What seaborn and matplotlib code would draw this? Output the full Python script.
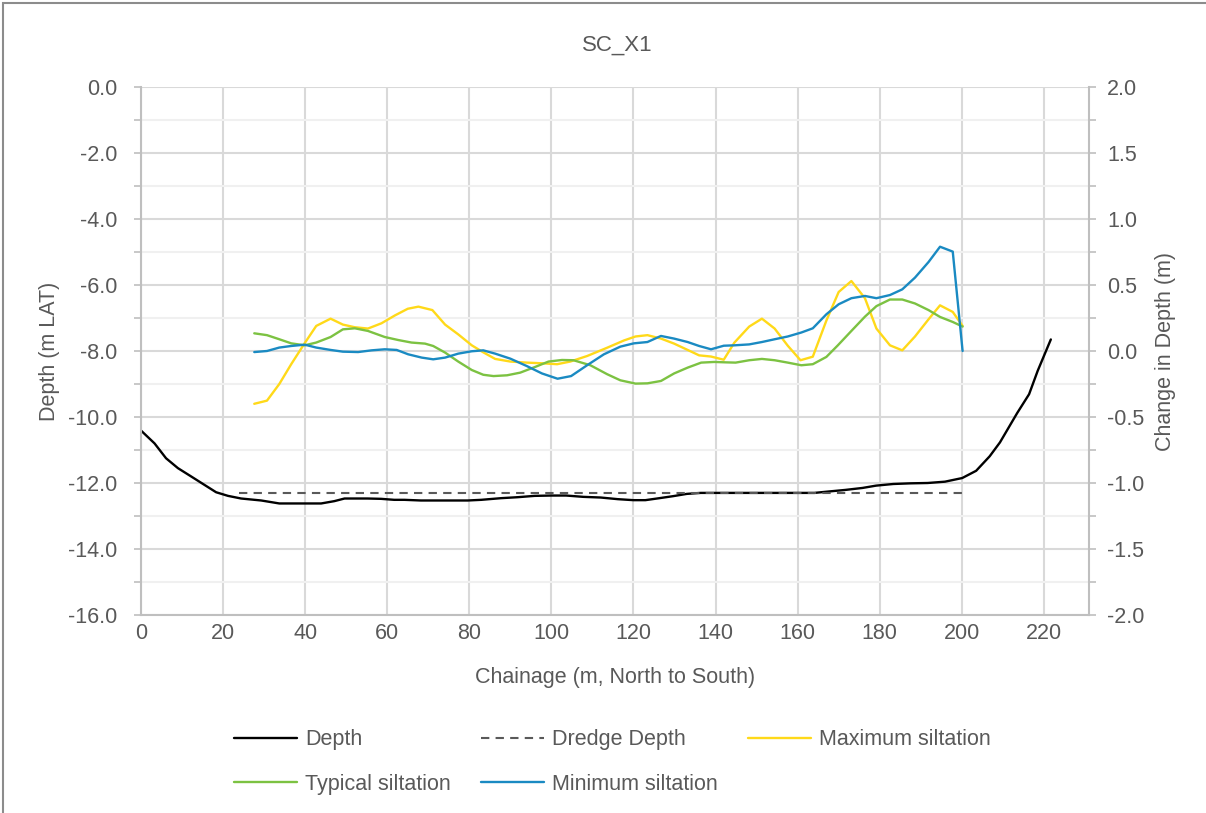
import matplotlib
matplotlib.use("Agg")
import matplotlib.pyplot as plt
import seaborn as sns
from matplotlib.ticker import MultipleLocator, FormatStrFormatter
from matplotlib.patches import Rectangle

# depth profile (left axis, m LAT)
depth_x = [0, 3.3, 6.1, 9.0, 12.2, 15.5, 18.3, 21.2, 24.4, 29.3, 33.7, 39.0, 43.9, 47.1,
           49.6, 55.2, 58.5, 61.7, 64.2, 68.2, 79.6, 82.9, 87.7, 91.8, 95.9, 100.0, 103.6,
           107.8, 112.0, 116.2, 120.0, 122.9, 126.3, 129.6, 133.0, 136.4, 140.0, 149.8,
           160.3, 164.1, 168.2, 171.6, 175.8, 179.1, 183.3, 187.5, 191.7, 195.9, 200.1,
           203.5, 206.8, 209.3, 213.5, 216.4, 218.5, 221.7]
depth_y = [-10.41, -10.80, -11.25, -11.55, -11.80, -12.06, -12.28, -12.39, -12.47, -12.53,
           -12.62, -12.62, -12.62, -12.55, -12.47, -12.47, -12.48, -12.51, -12.51, -12.53,
           -12.53, -12.51, -12.46, -12.43, -12.39, -12.38, -12.38, -12.42, -12.44, -12.49,
           -12.52, -12.52, -12.46, -12.40, -12.33, -12.30, -12.30, -12.30, -12.30, -12.30,
           -12.25, -12.21, -12.15, -12.08, -12.03, -12.01, -12.00, -11.96, -11.85, -11.63,
           -11.19, -10.77, -9.88, -9.31, -8.60, -7.65]

dredge_x = [24, 200]
dredge_y = [-12.3, -12.3]

# siltation (right axis, change in depth m)
max_x = [27.6, 30.7, 33.7, 36.6, 39.9, 42.7, 46.2, 49.2, 52.1, 55.3, 58.6, 61.9, 65.0, 67.6,
         71.0, 74.1, 77.3, 80.6, 83.4, 86.3, 90.0, 94.0, 97.7, 101.4, 104.6, 108.7, 113.6,
         117.7, 120.5, 123.4, 126.7, 129.9, 133.2, 136.0, 138.9, 142.0, 144.6, 148.2, 151.3,
         154.4, 157.6, 160.7, 163.7, 167.0, 170.0, 173.1, 176.4, 179.2, 182.5, 185.5, 188.6,
         191.9, 194.7, 197.8, 200.2]
max_y = [-0.40, -0.376, -0.25, -0.10, 0.06, 0.19, 0.245, 0.20, 0.18, 0.17, 0.21, 0.27, 0.32,
         0.336, 0.31, 0.20, 0.126, 0.043, -0.01, -0.06, -0.08, -0.088, -0.093, -0.10, -0.08,
         -0.038, 0.025, 0.08, 0.11, 0.12, 0.094, 0.056, 0.008, -0.033, -0.042, -0.066, 0.064,
         0.185, 0.245, 0.17, 0.04, -0.07, -0.043, 0.23, 0.447, 0.53, 0.40, 0.17, 0.043, 0.005,
         0.11, 0.24, 0.346, 0.296, 0.19]

typ_x = [27.6, 30.7, 33.7, 36.6, 39.9, 42.7, 46.2, 49.2, 52.1, 55.3, 59.4, 62.7, 65.9, 69.2,
         71.2, 74.1, 77.3, 80.6, 83.4, 85.9, 89.2, 92.4, 96.1, 99.3, 102.6, 105.4, 109.5,
         113.6, 116.8, 120.5, 123.4, 126.7, 129.9, 133.2, 136.5, 139.7, 142.5, 144.9, 148.2,
         151.3, 154.4, 157.6, 160.9, 163.7, 167.0, 169.8, 173.1, 176.4, 179.2, 182.5, 185.5,
         188.6, 191.9, 194.7, 197.8, 200.2]
typ_y = [0.134, 0.12, 0.089, 0.058, 0.043, 0.064, 0.106, 0.164, 0.172, 0.152, 0.106, 0.083,
         0.064, 0.056, 0.038, -0.012, -0.08, -0.144, -0.18, -0.19, -0.184, -0.164, -0.12,
         -0.08, -0.068, -0.07, -0.108, -0.176, -0.222, -0.247, -0.245, -0.227, -0.17, -0.126,
         -0.088, -0.083, -0.086, -0.088, -0.07, -0.06, -0.07, -0.088, -0.108, -0.10, -0.045,
         0.043, 0.152, 0.26, 0.34, 0.39, 0.39, 0.36, 0.31, 0.258, 0.22, 0.185]

min_x = [27.6, 30.7, 33.7, 36.6, 39.9, 42.7, 46.2, 49.2, 52.9, 56.2, 59.4, 62.3, 65.1, 68.4,
         71.2, 74.1, 77.3, 80.6, 83.4, 86.3, 90.0, 94.0, 97.7, 101.5, 104.8, 108.7, 112.8,
         116.8, 120.1, 123.4, 126.7, 129.9, 133.2, 136.0, 138.9, 142.0, 144.6, 148.2, 151.3,
         154.4, 157.6, 160.9, 163.7, 167.0, 170.0, 173.1, 176.4, 179.2, 182.5, 185.5, 188.6,
         191.9, 194.7, 197.8, 200.2]
min_y = [-0.008, 0.0, 0.026, 0.038, 0.048, 0.026, 0.008, -0.005, -0.008, 0.005, 0.013, 0.008,
         -0.025, -0.05, -0.063, -0.05, -0.02, -0.002, 0.005, -0.02, -0.058, -0.114, -0.17,
         -0.21, -0.19, -0.108, -0.025, 0.033, 0.058, 0.068, 0.114, 0.094, 0.068, 0.038, 0.013,
         0.04, 0.043, 0.05, 0.068, 0.089, 0.11, 0.14, 0.172, 0.278, 0.354, 0.40, 0.417, 0.40,
         0.424, 0.467, 0.556, 0.674, 0.79, 0.753, 0.0]

sns.set_style("white")
plt.rcParams["font.family"] = ["Liberation Sans", "DejaVu Sans"]
plt.rcParams["axes.unicode_minus"] = False

txt = "#595959"
grid_c = "#d9d9d9"
fs = 15.5

fig = plt.figure(figsize=(12.06, 8.13), dpi=100)
ax = fig.add_axes([141 / 1206, 1 - 615 / 813, (1089 - 141) / 1206, (615 - 87) / 813])
ax2 = ax.twinx()

sns.lineplot(x=depth_x, y=depth_y, ax=ax, color="black", lw=1.7, label="Depth")
sns.lineplot(x=dredge_x, y=dredge_y, ax=ax, color="#595959", lw=1.5, label="Dredge Depth")
ax.lines[-1].set_dashes((4, 3))
sns.lineplot(x=max_x, y=max_y, ax=ax2, color="#FFD919", lw=1.7, label="Maximum siltation")
sns.lineplot(x=typ_x, y=typ_y, ax=ax2, color="#7CC242", lw=1.7, label="Typical siltation")
sns.lineplot(x=min_x, y=min_y, ax=ax2, color="#1A8AC2", lw=1.7, label="Minimum siltation")

ax.set_xlim(0, 231)
ax.set_ylim(-16, 0)
ax2.set_ylim(-2, 2)

ax.xaxis.set_major_locator(MultipleLocator(20))
ax.yaxis.set_major_locator(MultipleLocator(2))
ax.yaxis.set_minor_locator(MultipleLocator(1))
ax.yaxis.set_major_formatter(FormatStrFormatter("%.1f"))
ax2.yaxis.set_major_locator(MultipleLocator(0.5))
ax2.yaxis.set_minor_locator(MultipleLocator(0.25))
ax2.yaxis.set_major_formatter(FormatStrFormatter("%.1f"))

ax.grid(True, which="major", axis="both", color=grid_c, lw=1.5)
ax.grid(True, which="minor", axis="y", color="#f0f0f0", lw=1.5)
ax.set_axisbelow(True)

for a in (ax, ax2):
    for s in a.spines.values():
        s.set_visible(False)
    a.tick_params(colors=txt, labelsize=fs)
ax.spines["left"].set_visible(True)
ax.spines["bottom"].set_visible(True)
ax2.spines["right"].set_visible(True)
for s in (ax.spines["left"], ax.spines["bottom"], ax2.spines["right"]):
    s.set_color("#bfbfbf")
    s.set_linewidth(1.5)

ax.tick_params(axis="x", length=0, pad=6)
ax.tick_params(axis="y", which="both", left=True, length=5, width=1.2, color="#bfbfbf", pad=12)
ax2.tick_params(axis="y", which="both", right=True, length=5, width=1.2, color="#bfbfbf", pad=8)

ax.set_xlabel("Chainage (m, North to South)", color=txt, fontsize=fs)
ax.set_ylabel("Depth (m LAT)", color=txt, fontsize=fs)
ax2.set_ylabel("Change in Depth (m)", color=txt, fontsize=fs)
ax.xaxis.set_label_coords(0.5, (615 - 678) / 528)
ax.yaxis.set_label_coords((50 - 141) / 948, 0.5)
ax2.yaxis.set_label_coords((1166 - 141) / 948, 0.5)
for lab in (ax.xaxis.label, ax.yaxis.label, ax2.yaxis.label):
    lab.set_verticalalignment("center")
fig.text(617 / 1206, 1 - 45 / 813, "SC_X1", color=txt, fontsize=16, ha="center", va="center")

h1, l1 = ax.get_legend_handles_labels()
h2, l2 = ax2.get_legend_handles_labels()
ax.get_legend().remove()
ax2.get_legend().remove()
hd = dict(zip(l1 + l2, h1 + h2))
order = ["Depth", "Typical siltation", "Dredge Depth", "Minimum siltation", "Maximum siltation"]
fig.legend([hd[k] for k in order], order, ncol=3, loc="center",
           bbox_to_anchor=(0.508, 1 - 762 / 813), frameon=False, fontsize=fs,
           labelcolor=txt, handlelength=2.9, handletextpad=0.4, columnspacing=1.4,
           labelspacing=1.1)

fig.patches.append(Rectangle((3 / 1206, -0.01), 1.0, 1 - 3 / 813 + 0.01, transform=fig.transFigure,
                             fill=False, edgecolor="#8c8c8c", lw=1.5))

fig.savefig("out.png", dpi=100)
